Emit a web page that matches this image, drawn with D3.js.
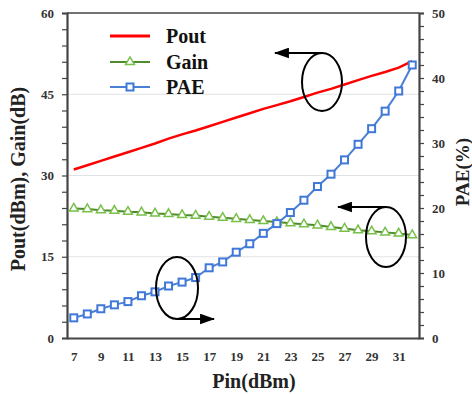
<!DOCTYPE html>
<html>
<head>
<meta charset="utf-8">
<script src="https://cdn.jsdelivr.net/npm/d3@7"></script>
<style>
  body { margin: 0; background: #fff; }
  text { font-family: "Liberation Serif", "Times New Roman", serif; font-weight: bold; }
</style>
</head>
<body>
<div id="chart"></div>
<script>
// input power sweep (dBm)
const pin = [7, 8, 9, 10, 11, 12, 13, 14, 15, 16, 17, 18, 19, 20, 21, 22, 23, 24, 25, 26, 27, 28, 29, 30, 31, 32];
const pout = [31.1, 31.9, 32.7, 33.5, 34.3, 35.1, 35.9, 36.8, 37.6, 38.3, 39.1, 39.9, 40.7, 41.5, 42.3, 43.0, 43.7, 44.5, 45.3, 46.0, 46.8, 47.6, 48.4, 49.1, 49.9, 51.1];
const gain = [23.9, 23.8, 23.6, 23.5, 23.3, 23.2, 23.0, 22.9, 22.7, 22.6, 22.4, 22.2, 22.0, 21.8, 21.6, 21.4, 21.2, 21.0, 20.8, 20.5, 20.2, 19.9, 19.7, 19.5, 19.3, 19.0];
const pae = [3.1, 3.7, 4.5, 5.1, 5.6, 6.5, 7.1, 8.0, 8.6, 9.3, 10.8, 11.7, 13.2, 14.5, 16.1, 17.6, 19.3, 21.2, 23.3, 25.2, 27.4, 29.8, 32.2, 34.9, 38.0, 42.0];
const xLabels = [7, 9, 11, 13, 15, 17, 19, 21, 23, 25, 27, 29, 31];
const leftTicks = [0, 15, 30, 45, 60];
const rightTicks = [0, 10, 20, 30, 40, 50];

const width = 472, height = 394;
const margin = {left: 67, right: 53, top: 13, bottom: 56};

const svg = d3.select('#chart').append('svg')
    .attr('width', width).attr('height', height);

const x = d3.scalePoint()
    .domain(pin)
    .range([margin.left, width - margin.right])
    .padding(0.5);
const yL = d3.scaleLinear().domain([0, 60]).range([height - margin.bottom, margin.top]);
const yR = d3.scaleLinear().domain([0, 50]).range([height - margin.bottom, margin.top]);

const x0 = margin.left, x1 = width - margin.right;
const yb = height - margin.bottom, yt = margin.top;

// gridlines
svg.append('g').selectAll('line')
    .data([15, 30, 45])
    .join('line')
    .attr('x1', x0).attr('x2', x1)
    .attr('y1', d => yL(d)).attr('y2', d => yL(d))
    .attr('stroke', '#e2e2e2').attr('stroke-width', 1);

// frame top
svg.append('line').attr('x1', x0).attr('x2', x1).attr('y1', yt).attr('y2', yt)
    .attr('stroke', '#444').attr('stroke-width', 1.5);

// left axis
const gl = svg.append('g').attr('transform', `translate(${x0},0)`)
    .call(d3.axisLeft(yL).tickValues(d3.range(0, 61, 3)).tickSize(5)
        .tickFormat(d => leftTicks.includes(d) ? d : ''));
// right axis
const gr = svg.append('g').attr('transform', `translate(${x1},0)`)
    .call(d3.axisRight(yR).tickValues(d3.range(0, 51, 2)).tickSize(5)
        .tickFormat(d => rightTicks.includes(d) ? d : ''));
// bottom axis
const gb = svg.append('g').attr('transform', `translate(0,${yb})`)
    .call(d3.axisBottom(x).tickSize(0).tickPadding(14)
        .tickFormat(d => xLabels.includes(d) ? d : ''));

[gl, gr, gb].forEach(g => {
    g.select('.domain').attr('stroke', '#444').attr('stroke-width', 2.2);
    g.selectAll('.tick line').attr('stroke', '#444').attr('stroke-width', 1.2);
    g.selectAll('.tick text')
        .attr('font-family', '"Liberation Serif", serif')
        .attr('font-weight', 'bold').attr('font-size', 13).attr('fill', '#333');
});
gl.selectAll('.tick text').attr('x', -13);
gr.selectAll('.tick text').attr('x', 13);

// series
const lineL = d3.line().x((d, i) => x(pin[i])).y(d => yL(d));
const lineR = d3.line().x((d, i) => x(pin[i])).y(d => yR(d));

svg.append('path').datum(pout).attr('d', lineL)
    .attr('fill', 'none').attr('stroke', '#ff0000').attr('stroke-width', 2.5);

svg.append('path').datum(gain).attr('d', lineL)
    .attr('fill', 'none').attr('stroke', '#4f8a2b').attr('stroke-width', 2);
const tri = d3.symbol().type(d3.symbolTriangle).size(34);
svg.append('g').selectAll('path')
    .data(gain).join('path')
    .attr('d', tri)
    .attr('transform', (d, i) => `translate(${x(pin[i])},${yL(d)})`)
    .attr('fill', '#fff').attr('stroke', '#78c04a').attr('stroke-width', 1.5);

svg.append('path').datum(pae).attr('d', lineR)
    .attr('fill', 'none').attr('stroke', '#4a7fd6').attr('stroke-width', 2);
svg.append('g').selectAll('rect')
    .data(pae).join('rect')
    .attr('x', (d, i) => x(pin[i]) - 3.5).attr('y', d => yR(d) - 3.5)
    .attr('width', 7).attr('height', 7)
    .attr('fill', '#fff').attr('stroke', '#3f78d8').attr('stroke-width', 2);

// legend
const legend = svg.append('g');
const items = [
    {name: 'Pout', color: '#ff0000', marker: null, y: 36},
    {name: 'Gain', color: '#4f8a2b', marker: 'tri', y: 62},
    {name: 'PAE', color: '#4a7fd6', marker: 'sq', y: 87}
];
items.forEach(it => {
    legend.append('line').attr('x1', 110).attr('x2', 150).attr('y1', it.y).attr('y2', it.y)
        .attr('stroke', it.color).attr('stroke-width', it.marker ? 2 : 2.8);
    if (it.marker === 'tri') {
        legend.append('path').attr('d', tri).attr('transform', `translate(130,${it.y})`)
            .attr('fill', '#fff').attr('stroke', '#78c04a').attr('stroke-width', 1.5);
    } else if (it.marker === 'sq') {
        legend.append('rect').attr('x', 126.5).attr('y', it.y - 3.5).attr('width', 7).attr('height', 7)
            .attr('fill', '#fff').attr('stroke', '#3f78d8').attr('stroke-width', 2);
    }
    legend.append('text').attr('x', 166).attr('y', it.y + 7)
        .attr('font-size', 20).attr('fill', '#111').text(it.name);
});

// annotation ellipses with arrows
svg.append('defs').append('marker')
    .attr('id', 'arr').attr('viewBox', '0 0 14 10').attr('refX', 13).attr('refY', 5)
    .attr('markerUnits', 'userSpaceOnUse')
    .attr('markerWidth', 15).attr('markerHeight', 11).attr('orient', 'auto')
    .append('path').attr('d', 'M0,0L14,5L0,10Z').attr('fill', '#000');

const notes = [
    {cx: 322, cy: 82, rx: 20, ry: 29, top: true, to: 275},
    {cx: 386, cy: 237, rx: 20, ry: 30, top: true, to: 338},
    {cx: 177, cy: 288, rx: 21, ry: 31, top: false, to: 214}
];
notes.forEach(n => {
    svg.append('ellipse').attr('cx', n.cx).attr('cy', n.cy).attr('rx', n.rx).attr('ry', n.ry)
        .attr('fill', 'none').attr('stroke', '#000').attr('stroke-width', 2);
    const yy = n.top ? n.cy - n.ry : n.cy + n.ry;
    svg.append('line').attr('x1', n.cx).attr('x2', n.to).attr('y1', yy).attr('y2', yy)
        .attr('stroke', '#000').attr('stroke-width', 2).attr('marker-end', 'url(#arr)');
});

// axis titles
svg.append('text').attr('transform', `translate(25,179) rotate(-90)`)
    .attr('text-anchor', 'middle').attr('font-size', 20).attr('fill', '#222')
    .text('Pout(dBm), Gain(dB)');
svg.append('text').attr('transform', `translate(469,172) rotate(-90)`)
    .attr('text-anchor', 'middle').attr('font-size', 19).attr('fill', '#222')
    .text('PAE(%)');
svg.append('text').attr('x', 254).attr('y', 388)
    .attr('text-anchor', 'middle').attr('font-size', 20).attr('fill', '#222')
    .text('Pin(dBm)');
</script>
</body>
</html>
